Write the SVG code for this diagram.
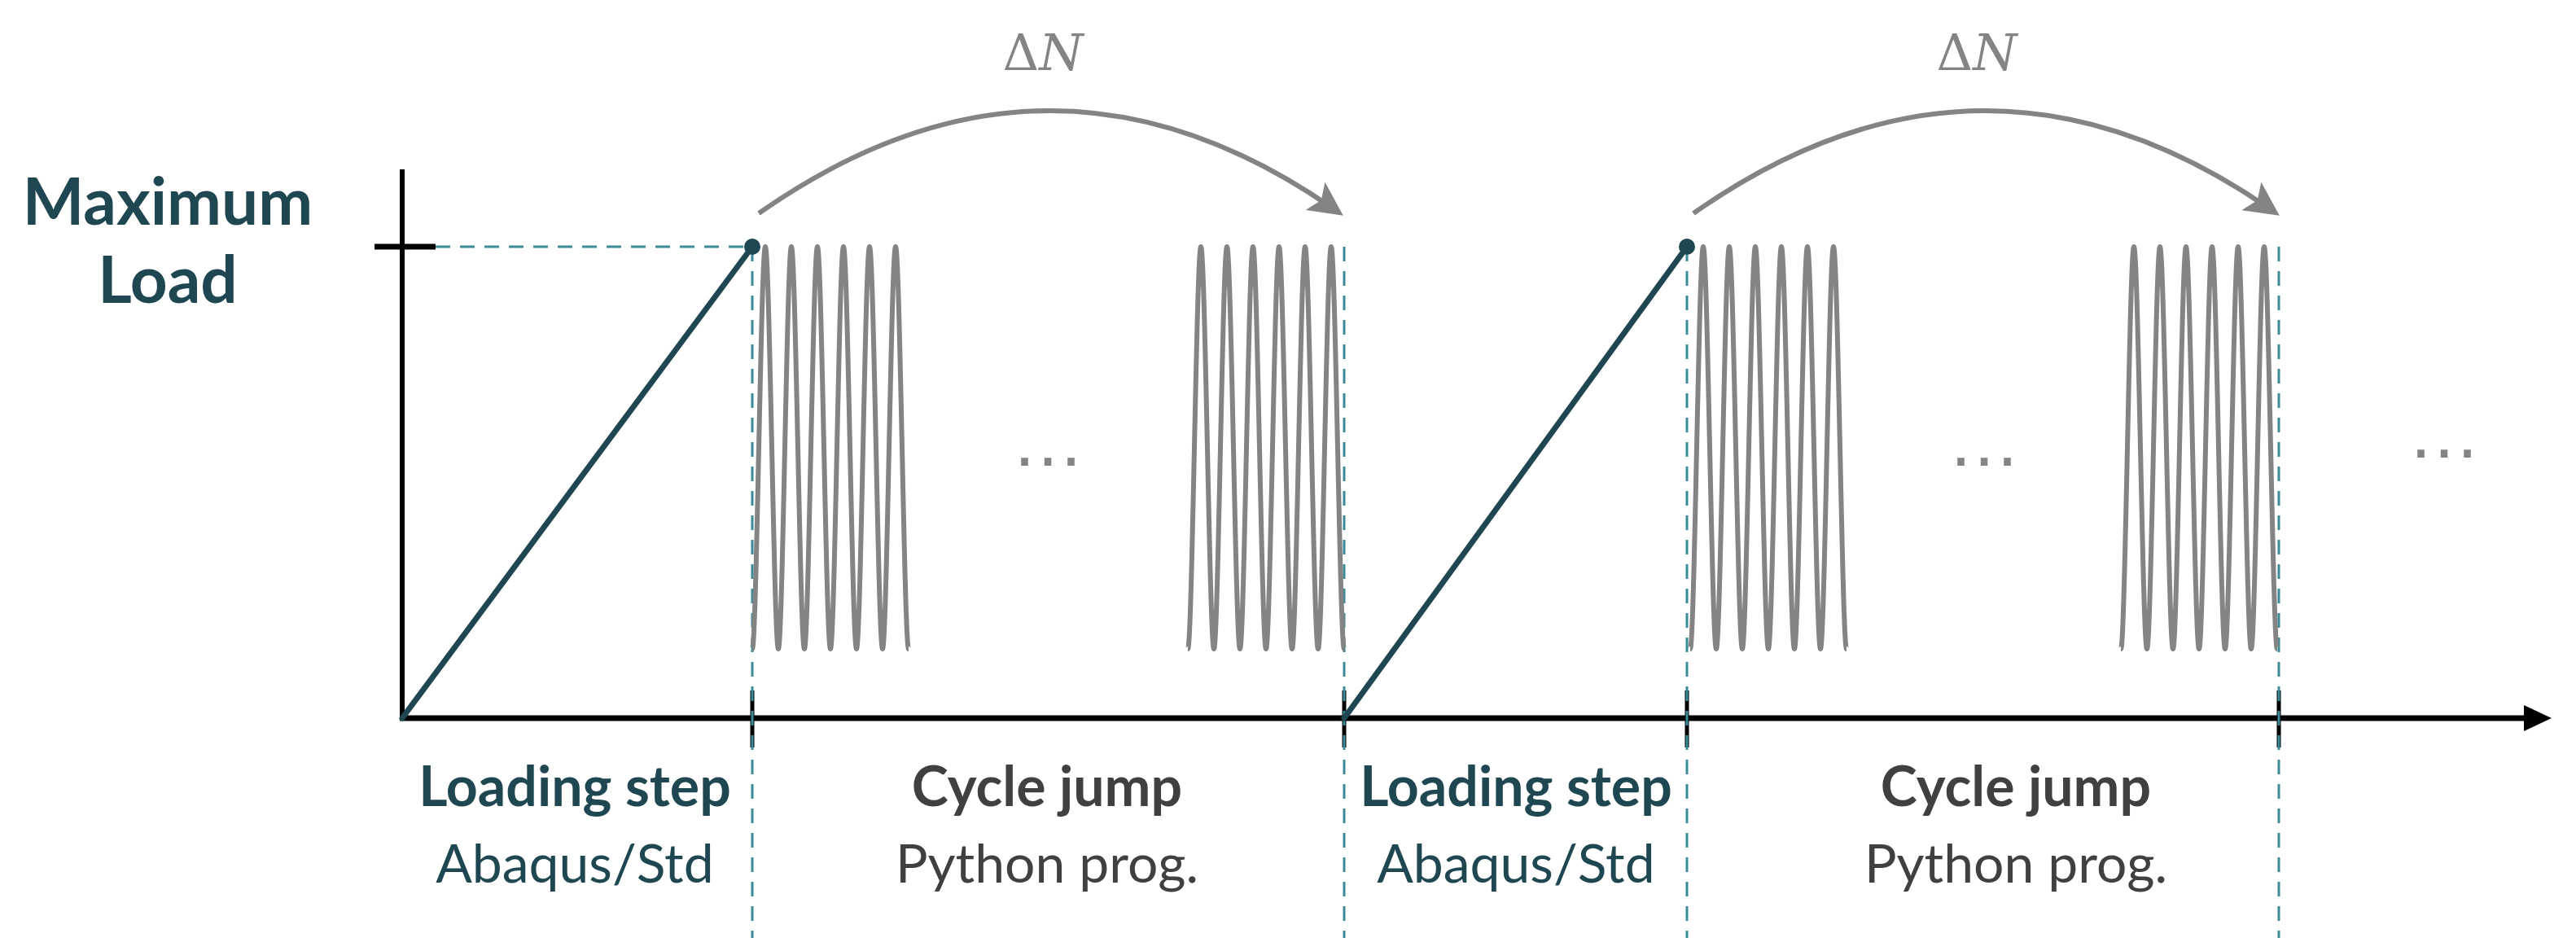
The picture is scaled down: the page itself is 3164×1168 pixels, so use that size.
<svg xmlns="http://www.w3.org/2000/svg" width="3164" height="1168" viewBox="0 0 3164 1168">
<style>
.ax{stroke:#000;stroke-width:6;fill:none}
.tk{stroke:#000;stroke-width:5}
.dash{stroke:#3A8A9A;stroke-width:3;stroke-dasharray:18,12;fill:none}
.load{stroke:#1F4751;stroke-width:7;fill:none;stroke-linecap:round}
.wave{stroke:#848484;stroke-width:6;fill:none}
.arc{stroke:#848484;stroke-width:6;fill:none}
.hb{font-family:Lato,"Open Sans",sans-serif;font-weight:bold;font-size:68px;text-anchor:middle}
.hn{font-family:Lato,"Open Sans",sans-serif;font-size:66px;text-anchor:middle}
.teal{fill:#1F4751}
.dg{fill:#404040}
.dn{font-family:"DejaVu Serif","Liberation Serif",serif;font-size:62px;fill:#848484;text-anchor:middle}
.dots{font-family:"Liberation Sans",sans-serif;font-size:90px;fill:#848484;text-anchor:middle}
</style>
<defs>
<marker id="ah" markerWidth="7" markerHeight="7" refX="5" refY="3.5" orient="auto" markerUnits="strokeWidth"><path d="M0,0 L7,3.5 L0,7 L1.5,3.5 Z" fill="#848484"/></marker>
<path id="w" class="wave" d="M0,0 c5.3,0 10.7,-494 16,-494 c5.3,0 10.7,494 16,494 c5.3,0 10.7,-494 16,-494 c5.3,0 10.7,494 16,494 c5.3,0 10.7,-494 16,-494 c5.3,0 10.7,494 16,494 c5.3,0 10.7,-494 16,-494 c5.3,0 10.7,494 16,494 c5.3,0 10.7,-494 16,-494 c5.3,0 10.7,494 16,494 c5.3,0 10.7,-494 16,-494 c5.3,0 10.7,494 16,494"/>
</defs>
<g id="axes">
<line class="ax" x1="494" y1="208" x2="494" y2="885"/>
<line class="ax" x1="491" y1="882" x2="3110" y2="882" style="stroke-width:7"/>
<path d="M3100,866 L3134,882 L3100,898 Z" fill="#000"/>
<line class="tk" x1="460" y1="303" x2="535" y2="303" style="stroke-width:7"/>
<line class="tk" x1="924" y1="848" x2="924" y2="918"/>
<line class="tk" x1="1651" y1="848" x2="1651" y2="918"/>
<line class="tk" x1="2072" y1="848" x2="2072" y2="918"/>
<line class="tk" x1="2799" y1="848" x2="2799" y2="918"/>
</g>
<g id="guides">
<line class="dash" x1="535" y1="303" x2="918" y2="303"/>
<line class="dash" x1="924" y1="303" x2="924" y2="1152"/>
<line class="dash" x1="1651" y1="303" x2="1651" y2="1152"/>
<line class="dash" x1="2072" y1="303" x2="2072" y2="1152"/>
<line class="dash" x1="2799" y1="303" x2="2799" y2="1152"/>
</g>
<g id="loading">
<line class="load" x1="494" y1="882" x2="924" y2="303"/>
<circle cx="924" cy="303" r="10" fill="#1F4751"/>
<line class="load" x1="1651" y1="882" x2="2072" y2="303"/>
<circle cx="2072" cy="303" r="10" fill="#1F4751"/>
</g>
<g id="waves">
<use href="#w" x="924" y="797"/>
<use href="#w" x="1459" y="797"/>
<use href="#w" x="2076" y="797"/>
<use href="#w" x="2605" y="797"/>
</g>
<g id="connectors">
<path class="arc" d="M932,262 Q1288,12 1640,258" marker-end="url(#ah)"/>
<path class="arc" d="M2080,262 Q2436,12 2790,258" marker-end="url(#ah)"/>
</g>
<g id="labels">
<text class="dn" x="1281" y="86">Δ<tspan font-style="italic">N</tspan></text>
<text class="dn" x="2428" y="86">Δ<tspan font-style="italic">N</tspan></text>
<text class="hb teal" x="206" y="276" style="font-size:80px">Maximum</text>
<text class="hb teal" x="206" y="372" style="font-size:80px">Load</text>
<text class="dots" x="1287" y="572">…</text>
<text class="dots" x="2437" y="572">…</text>
<text class="dots" x="3002" y="562">…</text>
<text class="hb teal" x="706" y="990">Loading step</text>
<text class="hn teal" x="706" y="1084">Abaqus/Std</text>
<text class="hb dg" x="1286" y="990">Cycle jump</text>
<text class="hn dg" x="1286" y="1084">Python prog.</text>
<text class="hb teal" x="1862" y="990">Loading step</text>
<text class="hn teal" x="1862" y="1084">Abaqus/Std</text>
<text class="hb dg" x="2476" y="990">Cycle jump</text>
<text class="hn dg" x="2476" y="1084">Python prog.</text>
</g>
</svg>
